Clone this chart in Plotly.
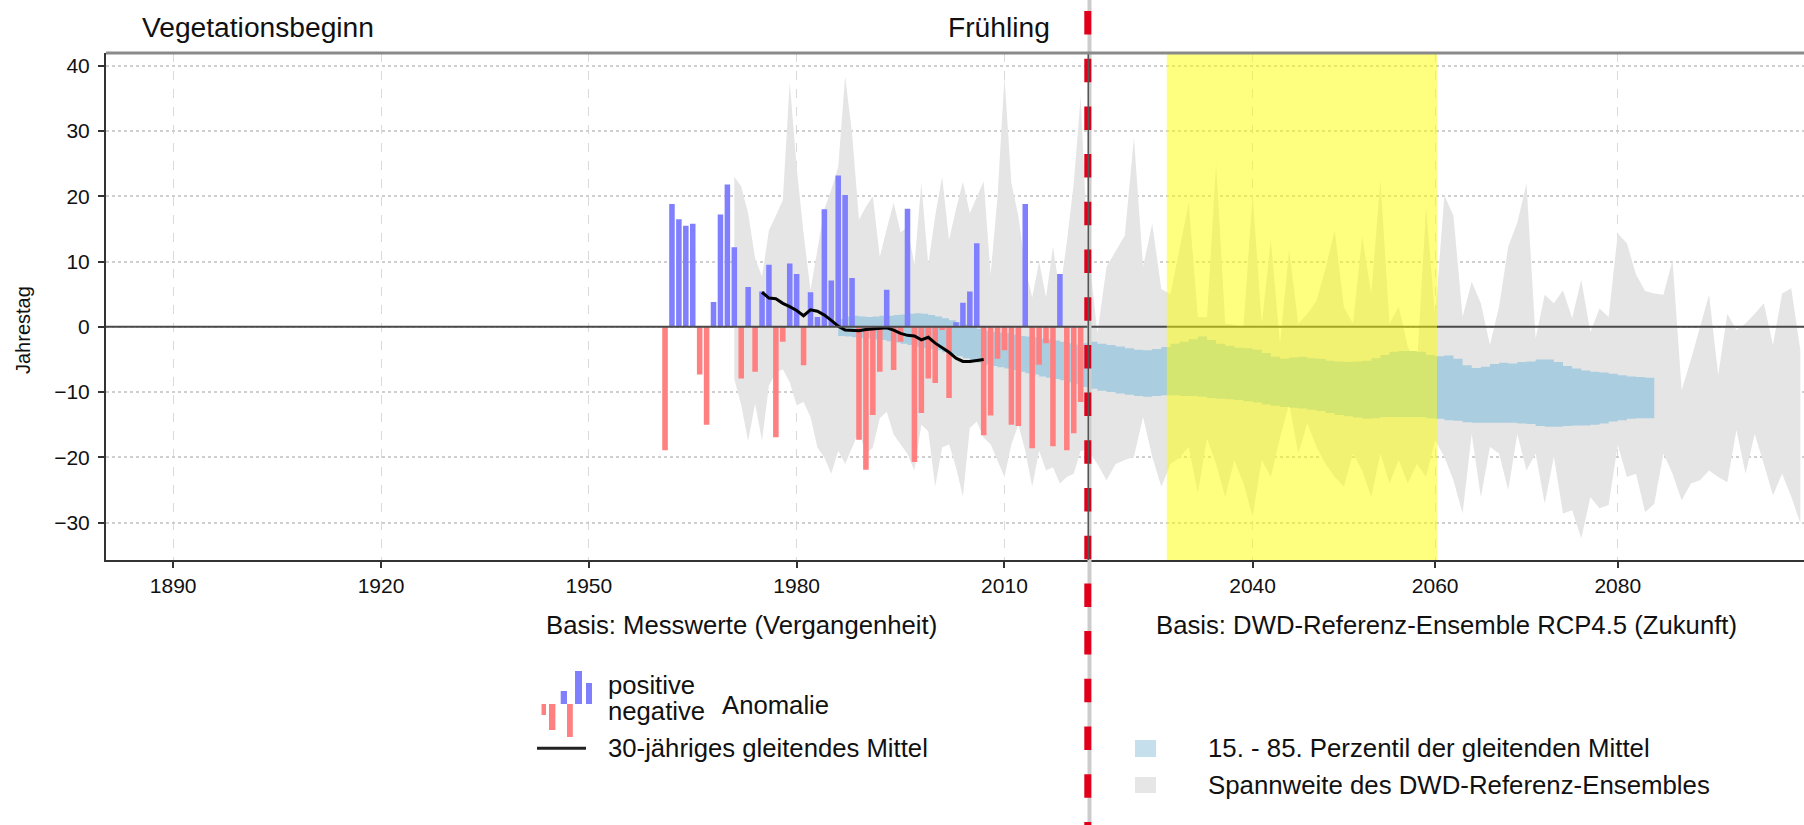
import plotly.graph_objects as go

# ---------------------------------------------------------------------------
# Vegetationsbeginn (Frühling): Anomalien des Jahrestags
# ---------------------------------------------------------------------------

# observed yearly anomalies (days)
bar_years = list(range(1961, 2022))
anomaly = [
    -18.9, 18.8, 16.5, 15.5, 15.8, -7.3, -15.0, 3.8, 17.2, 21.8,   # 1961-1970
    12.2, -7.9, 6.1, -6.9, 5.4, 9.5, -16.9, -2.3, 9.7, 8.1,        # 1971-1980
    -5.9, 5.3, 1.5, 18.0, 7.1, 23.2, 20.2, 7.5, -17.3, -21.9,      # 1981-1990
    -13.5, -6.9, 5.7, -6.6, -2.3, 18.1, -20.7, -13.2, -7.9, -8.6,  # 1991-2000
    -0.5, -10.9, 0.7, 3.7, 5.4, 12.8, -16.6, -13.6, -4.9, -3.6,    # 2001-2010
    -15.0, -15.2, 18.8, -18.6, -5.8, -2.5, -18.3, 8.1, -18.9, -16.3,  # 2011-2020
    -11.5,                                                          # 2021
]
BAR_WIDTH = 0.8  # years

# 30-year moving mean of the observations
mean_years = list(range(1975, 2008))
mean30 = [
    5.3, 4.4, 4.3, 3.6, 3.1, 2.5, 1.7, 2.6, 2.4, 1.8,      # 1975-1984
    1.0, 0.1, -0.5, -0.6, -0.6, -0.4, -0.3, -0.2, -0.15, -0.5,  # 1985-1994
    -1.0, -1.3, -1.4, -2.0, -1.6, -2.5, -3.2, -3.9, -4.8, -5.3,  # 1995-2004
    -5.3, -5.2, -5.0,                                      # 2005-2007
]

# range of the DWD reference ensemble (yearly max / min)
ens_years = list(range(1971, 2101))
ens_max = [
    23.0, 21.5, 17.4, 10.5, 7.7, 14.8, 17.0, 19.4, 37.5, 24.5,     # 1971-1980
    14.3, 5.6, 11.8, 18.0, 21.0, 24.5, 38.4, 29.6, 16.4, 18.4,     # 1981-1990
    20.0, 10.7, 15.0, 19.0, 14.5, 15.3, 9.5, 22.0, 9.5, 17.0,      # 1991-2000
    23.0, 13.3, 18.0, 22.2, 17.4, 20.0, 22.3, 8.0, 20.0, 38.3,     # 2001-2010
    22.0, 17.0, 9.0, 4.5, 10.0, 4.5, 12.3, 5.3, 13.0, 22.0,        # 2011-2020
    35.3, 12.0, -1.0, 9.2, 11.5, 14.0, 29.0, 9.2, 15.8, 5.8,       # 2021-2030
    5.0, 12.0, 19.0, 1.5, 1.5, 25.0, 0.5, 0.3, 0.0, 20.4,          # 2031-2040
    0.5, 13.3, -2.6, 11.8, 0.5, 2.0, 4.0, 9.0, 14.8, 3.0,          # 2041-2050
    0.5, 13.8, 5.1, 22.5, 0.5, 3.1, -3.0, -6.1, 18.4, 1.5,         # 2051-2060
    20.2, 17.0, 1.5, 6.9, 3.6, -2.8, 3.1, 12.3, 16.0, 22.0,        # 2061-2070
    -1.8, 4.9, 3.6, 5.6, 1.3, 7.2, -0.8, 2.8, 1.5, 14.3,           # 2071-2080
    12.8, 8.0, 5.5, 5.1, 4.9, 10.2, -9.7, -5.1, 0.0, 4.9,          # 2081-2090
    -7.4, 2.0, -0.5, 0.5, 2.0, 3.6, -2.8, 5.1, 5.9, -3.6,          # 2091-2100
]
ens_min = [
    -8.0, -12.0, -17.5, -11.8, -17.4, -9.0, -7.0, -6.5, -8.5, -12.0,      # 1971-1980
    -11.5, -13.8, -18.5, -20.0, -22.5, -19.0, -21.0, -18.5, -16.0, -19.5,  # 1981-1990
    -18.5, -14.0, -13.0, -16.5, -18.0, -19.5, -22.0, -15.0, -16.0, -24.5,  # 1991-2000
    -18.5, -18.0, -21.5, -26.0, -15.5, -14.5, -17.0, -18.0, -20.5, -23.0,  # 2001-2010
    -18.0, -15.0, -19.0, -24.5, -19.0, -22.0, -21.5, -24.0, -23.0, -22.5,  # 2011-2020
    -19.0, -18.9, -21.0, -23.5, -21.0, -20.4, -19.9, -13.8, -19.9, -24.5,  # 2021-2030
    -21.0, -20.0, -18.4, -25.5, -17.1, -21.0, -26.1, -20.4, -24.0, -29.1,  # 2031-2040
    -20.4, -23.0, -17.0, -11.8, -19.4, -14.8, -18.4, -21.0, -23.0, -24.5,  # 2041-2050
    -19.4, -22.0, -26.1, -19.4, -24.0, -20.4, -24.0, -21.0, -23.0, -17.4,  # 2051-2060
    -19.9, -23.5, -28.6, -16.4, -26.1, -18.4, -19.4, -25.0, -16.4, -22.0,  # 2061-2070
    -19.4, -27.1, -19.9, -28.6, -28.1, -32.4, -26.1, -27.8, -27.3, -18.1,  # 2071-2080
    -23.0, -22.5, -28.4, -27.1, -19.4, -22.5, -26.6, -24.0, -23.5, -22.0,  # 2081-2090
    -23.0, -23.8, -15.8, -22.5, -16.4, -21.0, -25.8, -22.5, -26.0, -30.1,  # 2091-2100
]

# 15th / 85th percentile of the ensemble's moving means
pct_years = list(range(1986, 2085))
pct85 = [
    1.2, 1.6, 1.7, 1.6, 1.5, 1.6, 1.7, 1.7, 1.8, 1.9,            # 1986-1995
    2.0, 2.1, 2.0, 1.8, 1.6, 1.3, 1.0, 0.7, 0.4, 0.0,            # 1996-2005
    -0.3, -0.6, -0.8, -0.9, -1.0, -1.2, -1.4, -1.5, -1.6, -1.8,  # 2006-2015
    -1.9, -2.1, -2.3, -2.5, -2.7, -2.5, -2.3, -2.6, -2.8, -3.0,  # 2016-2025
    -3.3, -3.5, -3.6, -3.4, -3.1, -2.6, -2.3, -1.9, -1.5, -2.0,  # 2026-2035
    -2.6, -2.9, -3.2, -3.3, -3.5, -4.0, -4.6, -4.9, -4.7, -4.6,  # 2036-2045
    -4.8, -4.9, -5.2, -5.3, -5.4, -5.3, -5.2, -4.8, -4.3, -3.8,  # 2046-2055
    -3.7, -3.7, -3.8, -4.3, -4.5, -4.4, -4.9, -5.9, -6.3, -6.1,  # 2056-2065
    -5.7, -5.5, -5.6, -5.4, -5.3, -5.0, -5.0, -5.4, -6.0, -6.4,  # 2066-2075
    -6.7, -6.9, -7.0, -7.2, -7.4, -7.6, -7.7, -7.8, -7.8,        # 2076-2084
]
pct15 = [
    -1.4, -1.5, -1.6, -1.7, -1.8, -1.9, -2.0, -2.2, -2.4, -2.6,       # 1986-1995
    -2.8, -3.0, -3.2, -3.4, -3.6, -3.9, -4.2, -4.5, -4.8, -5.2,       # 1996-2005
    -5.5, -5.8, -6.0, -6.2, -6.4, -6.6, -6.9, -7.1, -7.3, -7.6,       # 2006-2015
    -7.8, -8.0, -8.2, -8.5, -8.8, -9.2, -9.5, -9.8, -10.0, -10.2,     # 2016-2025
    -10.4, -10.6, -10.7, -10.6, -10.5, -10.5, -10.6, -10.6, -10.7, -10.9,  # 2026-2035
    -11.0, -11.1, -11.2, -11.4, -11.6, -11.9, -12.1, -12.3, -12.4, -12.5,  # 2036-2045
    -12.7, -12.9, -13.2, -13.5, -13.7, -13.9, -14.1, -14.0, -13.8, -13.8,  # 2046-2055
    -13.8, -13.8, -13.8, -14.0, -14.1, -14.3, -14.4, -14.6, -14.7, -14.7,  # 2056-2065
    -14.7, -14.7, -14.7, -14.8, -14.9, -15.2, -15.3, -15.3, -15.2, -15.1,  # 2066-2075
    -15.1, -15.0, -14.8, -14.5, -14.3, -14.1, -14.0, -14.0, -14.0,         # 2076-2084
]

x_ticks_past = [1890, 1920, 1950, 1980, 2010]
x_ticks_future = [2040, 2060, 2080]
y_ticks = [-30, -20, -10, 0, 10, 20, 30, 40]

BREAK_YEAR = 2022              # last observed / first scenario year
FOCUS_PERIOD = (2030.6, 2060.2)

assert len(anomaly) == len(bar_years)
assert len(mean30) == len(mean_years)
assert len(ens_max) == len(ens_years) == len(ens_min)
assert len(pct85) == len(pct_years) == len(pct15)

# ---------------------------------------------------------------------------
# geometry
# ---------------------------------------------------------------------------
W, H = 1804, 825
ML, MR, MT, MB = 106, 0, 53, 265
PW, PH = W - ML - MR, H - MT - MB

XL_RANGE = [1880.3, BREAK_YEAR + 0.1]
XR_RANGE = [BREAK_YEAR, 2100.4]
Y_RANGE = [-35.72, 41.95]
SPLIT = 0.5785


def px(x):
    return (x - ML) / PW


def py(y):
    return (H - MB - y) / PH


def y_to_paper(v):
    return (v - Y_RANGE[0]) / (Y_RANGE[1] - Y_RANGE[0])


FONT = "Liberation Sans, Arial, Helvetica, sans-serif"
C_POS, C_NEG = "#8080ff", "#ff8080"
C_RANGE, C_PCT = "#e5e5e5", "#aacde0"

fig = go.Figure()

# ensemble range and percentile band, drawn on both panels
for xa in ("x", "x2"):
    fig.add_trace(go.Scatter(
        x=ens_years + ens_years[::-1], y=ens_max + ens_min[::-1],
        fill="toself", fillcolor=C_RANGE, mode="lines",
        line=dict(width=0, color=C_RANGE), xaxis=xa, yaxis="y",
        hoverinfo="skip", name="Spannweite des DWD-Referenz-Ensembles"))
    fig.add_trace(go.Scatter(
        x=pct_years, y=pct15, mode="lines", line=dict(width=0, shape="hv"),
        xaxis=xa, yaxis="y", hoverinfo="skip", name="15. Perzentil"))
    fig.add_trace(go.Scatter(
        x=pct_years, y=pct85, mode="lines", line=dict(width=0, shape="hv"),
        fill="tonexty", fillcolor=C_PCT, xaxis=xa, yaxis="y",
        hoverinfo="skip", name="85. Perzentil"))


# observed anomalies as filled rectangles (kept in the scatter layer so
# they sit above the ensemble areas)
def bar_outline(years, values):
    xs, ys = [], []
    h = BAR_WIDTH / 2
    for yr, v in zip(years, values):
        xs += [yr - h, yr - h, yr + h, yr + h, yr - h, None]
        ys += [0, v, v, 0, 0, None]
    return xs, ys


for sign, color, name in ((1, C_POS, "positive Anomalie"),
                          (-1, C_NEG, "negative Anomalie")):
    sel = [(yr, v) for yr, v in zip(bar_years, anomaly) if v * sign > 0]
    bx, by = bar_outline([s[0] for s in sel], [s[1] for s in sel])
    fig.add_trace(go.Scatter(
        x=bx, y=by, fill="toself", fillcolor=color, mode="lines",
        line=dict(width=0, color=color), xaxis="x", yaxis="y",
        hoverinfo="skip", name=name))

# 30-year moving mean
fig.add_trace(go.Scatter(
    x=mean_years, y=mean30, mode="lines",
    line=dict(color="black", width=3), xaxis="x", yaxis="y",
    name="30-jähriges gleitendes Mittel"))

# ---------------------------------------------------------------------------
# shapes
# ---------------------------------------------------------------------------
shapes = []
# zero line
y0p = y_to_paper(0)
shapes.append(dict(type="line", xref="paper", yref="paper", x0=0, x1=1,
                   y0=y0p, y1=y0p, line=dict(color="#4a4a4a", width=2),
                   layer="above"))
# scenario focus period
shapes.append(dict(type="rect", xref="x2", yref="paper",
                   x0=FOCUS_PERIOD[0], x1=FOCUS_PERIOD[1], y0=0, y1=1,
                   fillcolor="rgba(255,255,0,0.5)", line=dict(width=0),
                   layer="above"))
# separator between observation and scenario part
shapes.append(dict(type="line", xref="paper", yref="paper",
                   x0=SPLIT + 1.2 / PW, x1=SPLIT + 1.2 / PW,
                   y0=py(0), y1=py(H), line=dict(color="#cccccc", width=4),
                   layer="above"))
shapes.append(dict(type="line", xref="paper", yref="paper",
                   x0=SPLIT - 0.5 / PW, x1=SPLIT - 0.5 / PW,
                   y0=py(11), y1=py(H),
                   line=dict(color="#e0001b", width=7, dash="23.5px,24.2px"),
                   layer="above"))
shapes.append(dict(type="line", xref="paper", yref="paper",
                   x0=SPLIT, x1=SPLIT, y0=0, y1=1,
                   line=dict(color="#555555", width=1.5), layer="above"))
# top frame
shapes.append(dict(type="line", xref="paper", yref="paper", x0=0, x1=1,
                   y0=1, y1=1, line=dict(color="#8a8a8a", width=3),
                   layer="above"))


def rect(x0, x1, y0, y1, color):
    shapes.append(dict(type="rect", xref="paper", yref="paper",
                       x0=px(x0), x1=px(x1), y0=py(y0), y1=py(y1),
                       fillcolor=color, line=dict(width=0), layer="above"))


# legend glyphs: small bar chart, line, colour boxes
base = 704
rect(541.5, 546.0, base, 715, C_NEG)
rect(549.0, 555.4, base, 730, C_NEG)
rect(567.0, 572.8, base, 737, C_NEG)
rect(560.7, 567.0, 691, base, C_POS)
rect(575.0, 582.0, 671, base, C_POS)
rect(586.0, 592.0, 683, base, C_POS)
shapes.append(dict(type="line", xref="paper", yref="paper",
                   x0=px(537), x1=px(586), y0=py(748.3), y1=py(748.3),
                   line=dict(color="#222222", width=3), layer="above"))
rect(1135, 1156, 740, 757, "#c6dfed")
rect(1135, 1156, 777, 793, "#e6e6e6")

# ---------------------------------------------------------------------------
# texts
# ---------------------------------------------------------------------------
annotations = []


def label(text, x, y, size, xanchor="left", angle=0):
    annotations.append(dict(text=text, xref="paper", yref="paper",
                            x=px(x), y=py(y), xanchor=xanchor,
                            yanchor="middle", showarrow=False,
                            textangle=angle,
                            font=dict(family=FONT, size=size, color="#111111")))


label("Vegetationsbeginn", 140, 27, 28.2)
label("Frühling", 1052, 27, 28.2, xanchor="right")
label("Jahrestag", 23, 330, 20, xanchor="center", angle=-90)
label("Basis: Messwerte (Vergangenheit)", 741, 625, 25.7, xanchor="center")
label("Basis: DWD-Referenz-Ensemble RCP4.5 (Zukunft)", 1446, 625, 25.7,
      xanchor="center")
label("positive", 606, 685, 25.7)
label("negative", 606, 711, 25.7)
label("Anomalie", 720, 705, 25.7)
label("30-jähriges gleitendes Mittel", 606, 748, 25.7)
label("15. - 85. Perzentil der gleitenden Mittel", 1206, 748, 25.8)
label("Spannweite des DWD-Referenz-Ensembles", 1206, 785, 25.8)

# ---------------------------------------------------------------------------
# axes
# ---------------------------------------------------------------------------
tickfont = dict(family=FONT, size=21, color="#111111")
xcommon = dict(ticks="outside", ticklen=6, tickwidth=1.5, tickcolor="#333333",
               showline=True, linecolor="#333333", linewidth=2,
               showgrid=True, gridcolor="#dadada", gridwidth=1,
               griddash="dash", zeroline=False, tickfont=tickfont,
               anchor="y", fixedrange=True)

fig.update_layout(
    width=W, height=H, autosize=False,
    margin=dict(l=ML, r=MR, t=MT, b=MB, pad=0),
    paper_bgcolor="white", plot_bgcolor="white",
    showlegend=False,
    font=dict(family=FONT, color="#111111"),
    xaxis=dict(domain=[0, SPLIT], range=XL_RANGE, tickmode="array",
               tickvals=x_ticks_past, **xcommon),
    xaxis2=dict(domain=[SPLIT, 1], range=XR_RANGE, tickmode="array",
                tickvals=x_ticks_future, **xcommon),
    yaxis=dict(range=Y_RANGE, tickmode="array", tickvals=y_ticks,
               ticks="outside", ticklen=6, tickwidth=1.5, tickcolor="#333333",
               showline=True, linecolor="#333333", linewidth=2,
               showgrid=True, gridcolor="#cfcfcf", gridwidth=1.5,
               griddash="dot", zeroline=False, tickfont=tickfont,
               ticklabelstandoff=4, anchor="x", fixedrange=True),
    shapes=shapes,
    annotations=annotations,
)

fig.write_html("out.html")
